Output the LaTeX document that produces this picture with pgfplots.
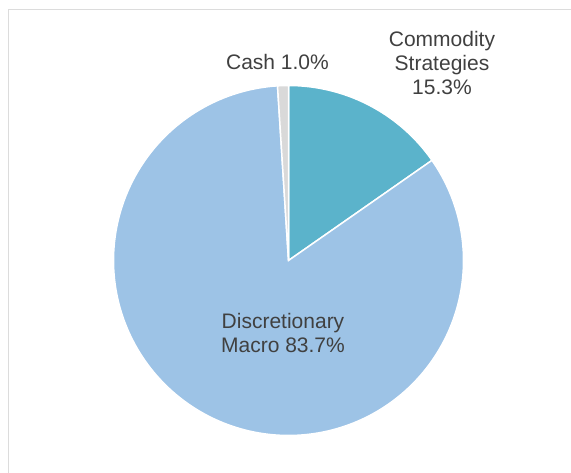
\documentclass[border=0pt]{standalone}
\usepackage{pgfplots}
\usepackage{pgfplotstable}
\pgfplotsset{compat=1.18}
\usepackage{fontspec}
\setmainfont{Liberation Sans}
\definecolor{commodity}{HTML}{5BB3CB}
\definecolor{discret}{HTML}{9DC3E6}
\definecolor{cashc}{HTML}{D9D9D9}
\definecolor{txt}{HTML}{404040}
\definecolor{frame}{HTML}{DCDCDC}
\pgfplotstableread{
name value
Commodity 15.3
Discretionary 83.7
Cash 1.0
}\piedata
\begin{document}
\begin{tikzpicture}[x=1pt,y=1pt]
\pgfplotstablegetelem{0}{value}\of\piedata\let\vA\pgfplotsretval
\pgfplotstablegetelem{1}{value}\of\piedata\let\vB\pgfplotsretval
\pgfplotstablegetelem{2}{value}\of\piedata\let\vC\pgfplotsretval
\pgfmathsetmacro{\aZero}{90}
\pgfmathsetmacro{\aOne}{\aZero-3.6*\vA}
\pgfmathsetmacro{\aTwo}{\aOne-3.6*\vB}
\pgfmathsetmacro{\aThree}{\aTwo-3.6*\vC}
\begin{axis}[
  at={(0,0)}, anchor=south west,
  scale only axis, width=571pt, height=473pt,
  xmin=0, xmax=571, ymin=0, ymax=473,
  hide axis, clip=false,
]
\addplot[draw=frame, line width=1.6pt] coordinates {(8.6,0) (8.6,463.6) (571,463.6)};
\addplot[fill=commodity, draw=white, line width=1.5pt, domain=\aOne:\aZero, samples=80]
  ({288.5+175*cos(x)},{212.5+175*sin(x)}) -- (axis cs:288.5,212.5) -- cycle;
\addplot[fill=discret, draw=white, line width=1.5pt, domain=\aTwo:\aOne, samples=200]
  ({288.5+175*cos(x)},{212.5+175*sin(x)}) -- (axis cs:288.5,212.5) -- cycle;
\addplot[fill=cashc, draw=white, line width=1.5pt, domain=\aThree:\aTwo, samples=10]
  ({288.5+175*cos(x)},{212.5+175*sin(x)}) -- (axis cs:288.5,212.5) -- cycle;
\begin{scope}[every node/.style={font=\fontsize{21}{24}\selectfont, text=txt, anchor=base, inner sep=0pt}]
\node at (axis cs:277.5,403) {Cash 1.0\%};
\node at (axis cs:442,426) {Commodity};
\node at (axis cs:442,402.5) {Strategies};
\node at (axis cs:442,378.5) {15.3\%};
\node at (axis cs:283,144) {Discretionary};
\node at (axis cs:283,120) {Macro 83.7\%};
\end{scope}
\end{axis}
\pgfresetboundingbox
\path (0,0) rectangle (571,473);
\end{tikzpicture}
\end{document}
